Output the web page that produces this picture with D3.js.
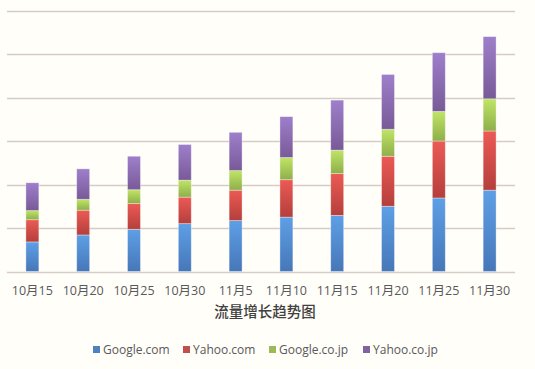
<!DOCTYPE html>
<html><head><meta charset="utf-8">
<script src="https://cdn.jsdelivr.net/npm/d3@7"></script>
<style>
html,body{margin:0;padding:0;background:#FFFEF9;}
svg{display:block;}
</style></head>
<body>
<svg id="chart" width="535" height="369"></svg>
<script>
const categories = ["10月15","10月20","10月25","10月30","11月5","11月10","11月15","11月20","11月25","11月30"];
const seriesNames = ["Google.com","Yahoo.com","Google.co.jp","Yahoo.co.jp"];
const googleCom  = [68, 84, 97, 110, 117, 125, 129, 150, 169, 187];
const yahooCom   = [51, 57, 59, 61, 70, 86, 96, 115, 131, 136];
const googleCoJp = [21, 25, 32, 39, 45, 51, 54, 62, 68, 74];
const yahooCoJp  = [64, 70, 77, 82, 88, 94, 115, 126, 135, 143];
const yTicks = [0,100,200,300,400,500,600];
const title = "流量增长趋势图";

const colors = [
  ["#5E9FE6","#4677B8"],
  ["#EC5A55","#B43F3C"],
  ["#BFE566","#8FAE4A"],
  ["#9E7FCB","#785A98"]
];
const legendColors = ["#4F81BD","#C0504D","#9BBB59","#8064A2"];

const svg = d3.select("#chart");
const W = 535, H = 369;
const m = {left:7, right:20, top:10.5, bottom:97.5};
const x = d3.scaleBand().domain(categories).range([m.left, W-m.right]).paddingInner(0.745).paddingOuter(0.372);
const y = d3.scaleLinear().domain([0,600]).range([H-m.bottom, m.top]);

const defs = svg.append("defs");
colors.forEach((c,i)=>{
  const g = defs.append("linearGradient").attr("id","g"+i).attr("x1",0).attr("y1",0).attr("x2",0).attr("y2",1);
  g.append("stop").attr("offset","0%").attr("stop-color",c[0]);
  g.append("stop").attr("offset","100%").attr("stop-color",c[1]);
});

// gridlines
svg.append("g").selectAll("line").data(yTicks).join("line")
  .attr("x1", m.left).attr("x2", W-m.right)
  .attr("y1", d=>Math.round(y(d))+0.5).attr("y2", d=>Math.round(y(d))+0.5)
  .attr("stroke","#D6CBC6").attr("stroke-width",1.3);

const table = categories.map((c,i)=>({cat:c, s0:googleCom[i], s1:yahooCom[i], s2:googleCoJp[i], s3:yahooCoJp[i]}));
const stack = d3.stack().keys(["s0","s1","s2","s3"])(table);

stack.forEach((layer,i)=>{
  svg.append("g").selectAll("rect").data(layer).join("rect")
    .attr("x", d=>x(d.data.cat))
    .attr("width", x.bandwidth())
    .attr("y", d=>y(d[1]))
    .attr("height", d=>y(d[0])-y(d[1]))
    .attr("fill","url(#g"+i+")")
    .attr("stroke","rgba(255,255,255,0.45)").attr("stroke-width",0.8);
});

// x axis labels
const xAxis = d3.axisBottom(x).tickSize(0).tickPadding(0);
const ax = svg.append("g").attr("transform",`translate(0,${H-m.bottom+13})`).call(xAxis);
ax.select(".domain").remove();
ax.selectAll("text").attr("font-family","'Open Sans','Noto Sans CJK SC',sans-serif")
  .attr("font-size","12.5px").attr("fill","#595959").attr("dy","0.35em").attr("y",6);

// title
svg.append("text").attr("x",265).attr("y",312).attr("dy","0.35em")
  .attr("text-anchor","middle").attr("font-family","'Noto Sans CJK SC',sans-serif")
  .attr("font-size","14.5px").attr("font-weight","500").attr("fill","#404040").text(title);

// legend
const legendX = [93, 183, 269, 363];
const lg = svg.append("g");
seriesNames.forEach((n,i)=>{
  lg.append("rect").attr("x",legendX[i]).attr("y",346).attr("width",7).attr("height",7).attr("fill",legendColors[i]);
  lg.append("text").attr("x",legendX[i]+10).attr("y",349.5).attr("dy","0.35em")
    .attr("font-family","'Open Sans',sans-serif").attr("font-size","12px").attr("fill","#595959").text(n);
});
</script>
</body></html>
